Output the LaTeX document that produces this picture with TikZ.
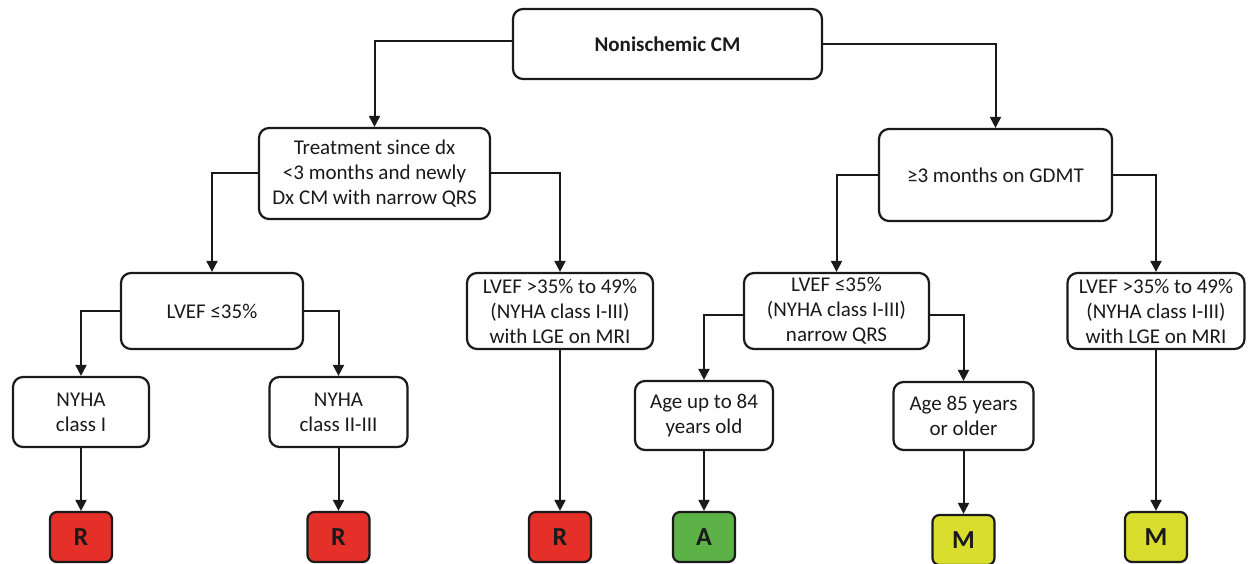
\documentclass[tikz,border=0pt]{standalone}
\usepackage{fontspec}
\setmainfont{Carlito}
\usetikzlibrary{arrows.meta}
\definecolor{rcol}{HTML}{E5302A}
\definecolor{gcol}{HTML}{5DB247}
\definecolor{ycol}{HTML}{D8DD2E}
\definecolor{lncol}{HTML}{1A1A1A}
\begin{document}
\begin{tikzpicture}[x=1pt,y=-1pt,
  box/.style={draw=lncol, line width=2.2pt, rounded corners=10pt, align=center,
    font=\fontsize{21}{25}\selectfont, text=lncol, inner sep=0pt, fill=white},
  verdict/.style={draw=lncol, line width=2.2pt, rounded corners=7pt, inner sep=0pt,
    minimum width=62pt, minimum height=50pt, font=\bfseries\fontsize{26}{26}\selectfont, text=lncol},
  conn/.style={draw=lncol, line width=2pt, -{Triangle[length=11pt,width=11pt]}}]
\useasboundingbox (0,0) rectangle (1252,564);
\fill[white] (0,0) rectangle (1252,564);
% level 0
\node[box, minimum width=309pt, minimum height=70pt, font=\bfseries\fontsize{21}{25}\selectfont] (root) at (667.5,44) {Nonischemic CM};
% level 1
\node[box, minimum width=231pt, minimum height=91pt] (treat) at (374.5,173.5) {Treatment since dx\\<3 months and newly\\Dx CM with narrow QRS};
\node[box, minimum width=233pt, minimum height=92pt] (gdmt) at (995.5,175) {≥3 months on GDMT};
% level 2
\node[box, minimum width=182pt, minimum height=76pt] (lv1) at (212,311) {LVEF ≤35\%};
\node[box, minimum width=186pt, minimum height=76pt] (lv2) at (560,311) {LVEF >35\% to 49\%\\(NYHA class I-III)\\with LGE on MRI};
\node[box, minimum width=185pt, minimum height=76pt] (lv3) at (836.5,311) {LVEF ≤35\%\\(NYHA class I-III)\\narrow QRS};
\node[box, minimum width=177pt, minimum height=76pt] (lv4) at (1156,311) {LVEF >35\% to 49\%\\(NYHA class I-III)\\with LGE on MRI};
% level 3
\node[box, minimum width=136pt, minimum height=70pt] (ny1) at (81,412) {NYHA\\class I};
\node[box, minimum width=138pt, minimum height=70pt] (ny2) at (338.5,412) {NYHA\\class II-III};
\node[box, minimum width=138pt, minimum height=69pt] (age1) at (704,415.5) {Age up to 84\\years old};
\node[box, minimum width=140pt, minimum height=68pt] (age2) at (963.5,416) {Age 85 years\\or older};
% verdicts
\node[verdict, fill=rcol] (r1) at (81,537) {R};
\node[verdict, fill=rcol] (r2) at (338.5,537) {R};
\node[verdict, fill=rcol] (r3) at (560,537) {R};
\node[verdict, fill=gcol] (a1) at (704,537) {A};
\node[verdict, fill=ycol] (m1) at (963.5,540) {M};
\node[verdict, fill=ycol] (m2) at (1156,537) {M};
% connectors
\draw[conn] ([yshift=3pt]root.west) -| (treat.north);
\draw[conn] (root.east) -| (gdmt.north);
\draw[conn] (treat.west) -| (lv1.north);
\draw[conn] (treat.east) -| (lv2.north);
\draw[conn] (gdmt.west) -| (lv3.north);
\draw[conn] (gdmt.east) -| (lv4.north);
\draw[conn] (lv1.west) -| (ny1.north);
\draw[conn] (lv1.east) -| (ny2.north);
\draw[conn] ([yshift=-4pt]lv3.west) -| (age1.north);
\draw[conn] ([yshift=-4pt]lv3.east) -| (age2.north);
\draw[conn] (ny1.south) -- (r1.north);
\draw[conn] (ny2.south) -- (r2.north);
\draw[conn] (lv2.south) -- (r3.north);
\draw[conn] (age1.south) -- (a1.north);
\draw[conn] (age2.south) -- (m1.north);
\draw[conn] (lv4.south) -- (m2.north);
\end{tikzpicture}
\end{document}
